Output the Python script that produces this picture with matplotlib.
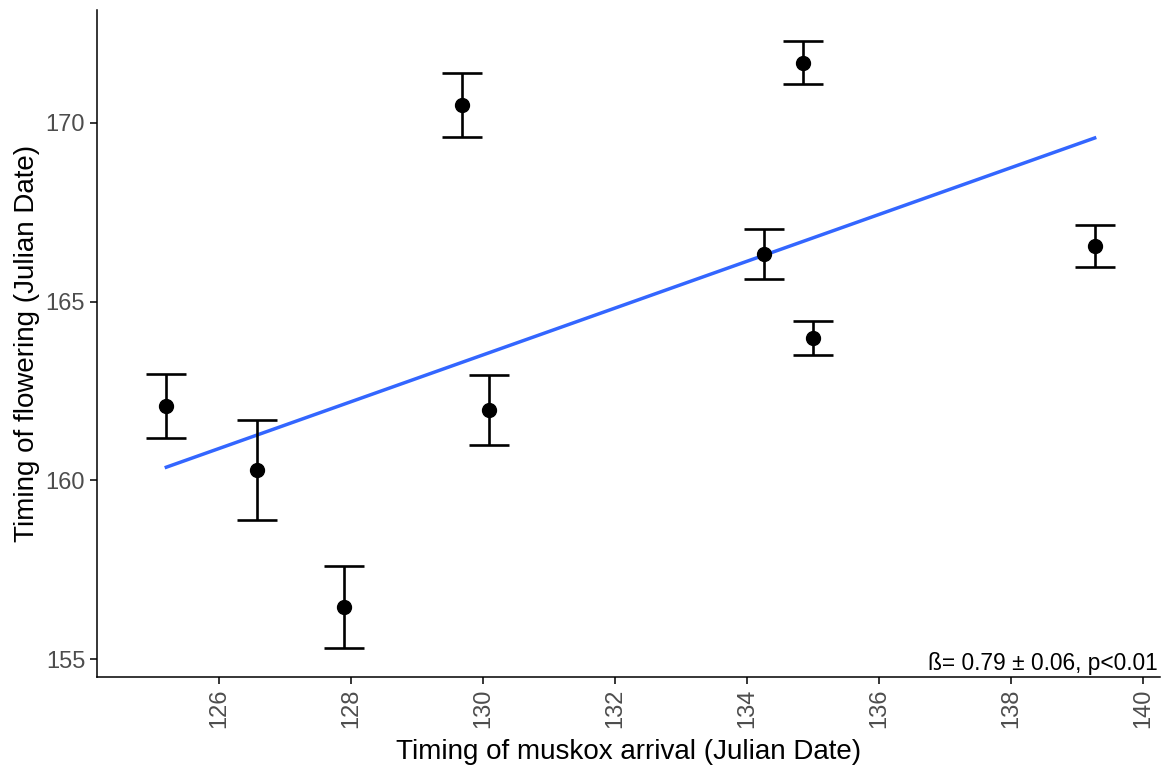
import matplotlib
matplotlib.use("Agg")
import matplotlib.pyplot as plt

plt.rcParams['font.family'] = ['Liberation Sans', 'DejaVu Sans']

# muskox arrival (x) vs flowering date (y), with SE
arrival = [125.2, 126.58, 127.9, 129.68, 130.09, 134.26, 134.85, 135.0, 139.27]
flowering = [162.08, 160.29, 156.45, 170.5, 161.97, 166.33, 171.68, 163.98, 166.56]
err = [0.9, 1.4, 1.15, 0.9, 0.97, 0.7, 0.6, 0.48, 0.59]

# fitted line
fit_x = [125.2, 139.27]
fit_y = [160.37, 169.58]

xticks = [126, 128, 130, 132, 134, 136, 138, 140]
yticks = [155, 160, 165, 170]

fig = plt.figure(figsize=(11.65, 7.71), dpi=100)
ax = fig.add_axes([0.0833, 0.1219, 0.9124, 0.8651])

ax.plot(fit_x, fit_y, color='#3366FF', lw=2.5, zorder=2)
ax.errorbar(arrival, flowering, yerr=err, fmt='o', color='black', ms=10,
            elinewidth=1.9, capsize=14.5, capthick=1.9, zorder=3)

ax.set_xlim(124.15, 140.26)
ax.set_ylim(154.5, 173.16)
ax.set_xticks(xticks)
ax.set_yticks(yticks)
ax.tick_params(axis='x', labelrotation=90)
ax.tick_params(labelsize=17, labelcolor='#4d4d4d', length=5, width=1.1)

for s in ['top', 'right']:
    ax.spines[s].set_visible(False)
for s in ['left', 'bottom']:
    ax.spines[s].set_linewidth(1.1)

ax.set_xlabel('Timing of muskox arrival (Julian Date)', fontsize=20, labelpad=8)
ax.set_ylabel('Timing of flowering (Julian Date)', fontsize=20)

ax.text(0.998, 0.003, 'ß= 0.79 ± 0.06, p<0.01', transform=ax.transAxes,
        ha='right', va='bottom', fontsize=16.4)

fig.savefig('out.png', dpi=100)
